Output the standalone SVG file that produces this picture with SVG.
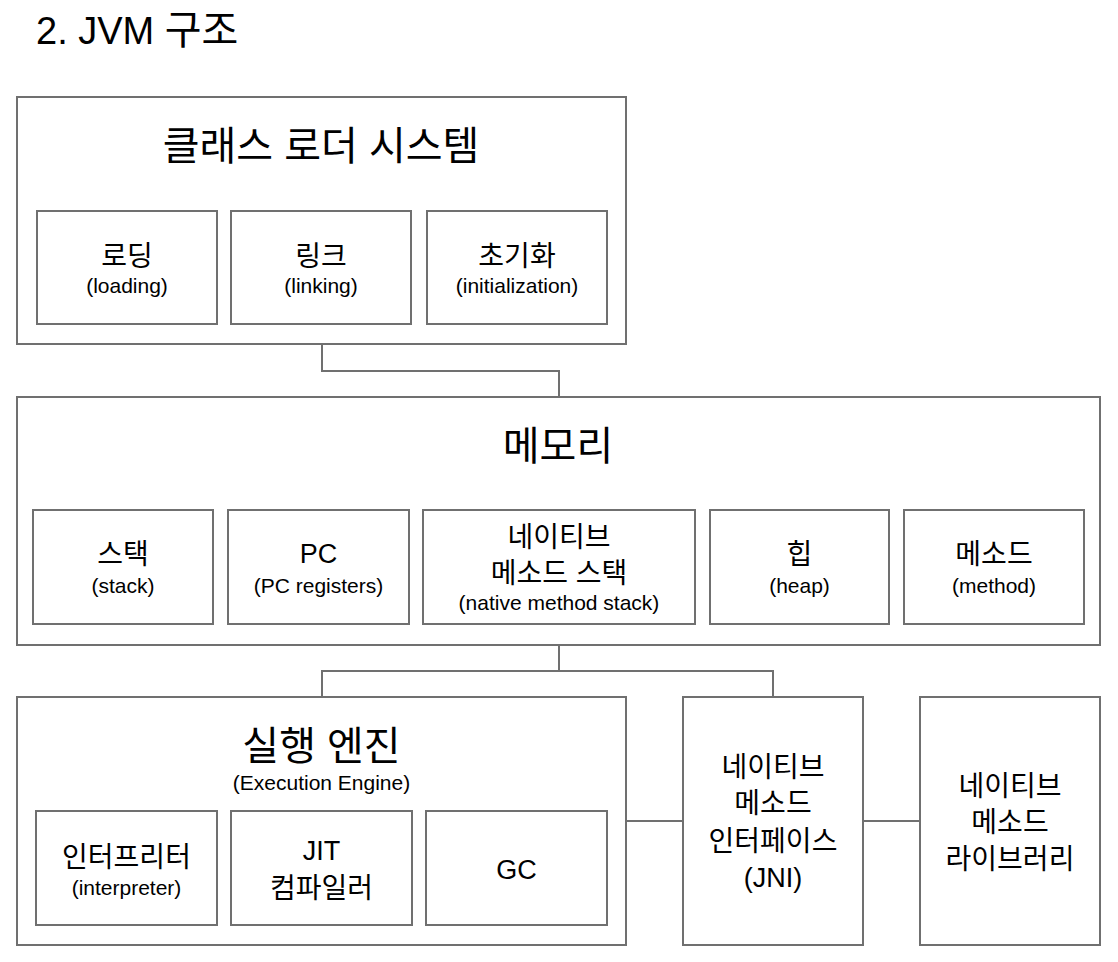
<svg xmlns="http://www.w3.org/2000/svg" width="1118" height="962" viewBox="0 0 1118 962">
<style>
  .box { fill: #ffffff; stroke: #707070; stroke-width: 2; }
  .conn { fill: none; stroke: #707070; stroke-width: 2; }
  text { font-family: "Liberation Sans", "Noto Sans CJK KR", sans-serif; fill: #000000; text-anchor: middle; }
  .h1 { font-size: 38px; text-anchor: start; }
  .big { font-size: 40px; }
  .ko { font-size: 28px; }
  .en { font-size: 27px; }
  .sub { font-size: 21px; }
</style>
<rect x="0" y="0" width="1118" height="962" fill="#ffffff"/>
<text class="h1" x="36" y="44">2. JVM <tspan font-size="40">구조</tspan></text>

<g id="connectors">
  <path class="conn" d="M322,344 V371 H559 V397"/>
  <path class="conn" d="M559,645 V671"/>
  <path class="conn" d="M322,697 V671 H773 V697"/>
  <path class="conn" d="M626,821 H683"/>
  <path class="conn" d="M863,821 H920"/>
</g>

<g id="class-loader">
  <rect class="box" x="17" y="97" width="609" height="247"/>
  <text class="big" x="321" y="160">클래스 로더 시스템</text>
</g>
<g id="loading">
  <rect class="box" x="37" y="211" width="180" height="113"/>
  <text class="ko" x="127" y="266">로딩</text>
  <text class="sub" x="127" y="293">(loading)</text>
</g>
<g id="linking">
  <rect class="box" x="231" y="211" width="180" height="113"/>
  <text class="ko" x="321" y="266">링크</text>
  <text class="sub" x="321" y="293">(linking)</text>
</g>
<g id="initialization">
  <rect class="box" x="427" y="211" width="180" height="113"/>
  <text class="ko" x="517" y="266">초기화</text>
  <text class="sub" x="517" y="293">(initialization)</text>
</g>

<g id="memory">
  <rect class="box" x="17" y="397" width="1083" height="248"/>
  <text class="big" x="558" y="460">메모리</text>
</g>
<g id="stack">
  <rect class="box" x="33" y="510" width="180" height="114"/>
  <text class="ko" x="123" y="564">스택</text>
  <text class="sub" x="123" y="593">(stack)</text>
</g>
<g id="pc">
  <rect class="box" x="228" y="510" width="181" height="114"/>
  <text class="en" x="318.5" y="563">PC</text>
  <text class="sub" x="318.5" y="593">(PC registers)</text>
</g>
<g id="native-stack">
  <rect class="box" x="423" y="510" width="272" height="114"/>
  <text class="ko" x="559" y="547">네이티브</text>
  <text class="ko" x="559" y="583">메소드 스택</text>
  <text class="sub" x="559" y="610">(native method stack)</text>
</g>
<g id="heap">
  <rect class="box" x="710" y="510" width="179" height="114"/>
  <text class="ko" x="799.5" y="564">힙</text>
  <text class="sub" x="799.5" y="593">(heap)</text>
</g>
<g id="method">
  <rect class="box" x="904" y="510" width="180" height="114"/>
  <text class="ko" x="994" y="564">메소드</text>
  <text class="sub" x="994" y="593">(method)</text>
</g>

<g id="execution-engine">
  <rect class="box" x="17" y="697" width="609" height="248"/>
  <text class="big" x="321.5" y="760">실행 엔진</text>
  <text class="sub" x="321.5" y="790">(Execution Engine)</text>
</g>
<g id="interpreter">
  <rect class="box" x="36" y="811" width="181" height="114"/>
  <text class="ko" x="126.5" y="867">인터프리터</text>
  <text class="sub" x="126.5" y="895">(interpreter)</text>
</g>
<g id="jit">
  <rect class="box" x="231" y="811" width="181" height="114"/>
  <text class="en" x="321.5" y="860">JIT</text>
  <text class="ko" x="321.5" y="898">컴파일러</text>
</g>
<g id="gc">
  <rect class="box" x="426" y="811" width="181" height="114"/>
  <text class="en" x="516.5" y="879">GC</text>
</g>

<g id="jni">
  <rect class="box" x="683" y="697" width="180" height="248"/>
  <text class="ko" x="773" y="777">네이티브</text>
  <text class="ko" x="773" y="813">메소드</text>
  <text class="ko" x="773" y="851">인터페이스</text>
  <text class="en" x="773" y="887">(JNI)</text>
</g>
<g id="native-library">
  <rect class="box" x="920" y="697" width="180" height="248"/>
  <text class="ko" x="1010" y="796">네이티브</text>
  <text class="ko" x="1010" y="832">메소드</text>
  <text class="ko" x="1010" y="869">라이브러리</text>
</g>
</svg>
